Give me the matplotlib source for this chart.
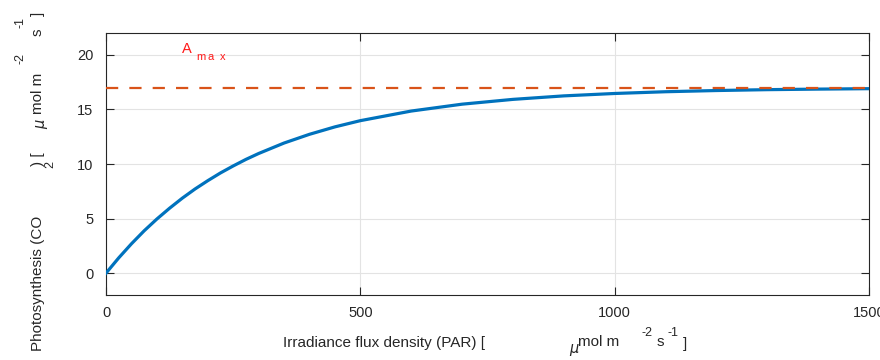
import matplotlib as mpl
import matplotlib.pyplot as plt

mpl.rcParams["font.family"] = ["Liberation Sans", "DejaVu Sans"]

# light-response curve
par = [0, 25, 50, 75, 100, 125, 150, 175, 200, 225, 250, 275, 300, 350,
       400, 450, 500, 600, 700, 800, 900, 1000, 1100, 1200, 1300, 1400, 1500]
photo = [0, 1.40, 2.69, 3.88, 4.96, 5.95, 6.87, 7.71, 8.47, 9.18, 9.82,
         10.42, 10.96, 11.92, 12.72, 13.40, 13.97, 14.85, 15.48, 15.92,
         16.24, 16.46, 16.62, 16.73, 16.81, 16.86, 16.90]
a_max = 17.0
xticks = [0, 500, 1000, 1500]
yticks = [0, 5, 10, 15, 20]

W, H = 880, 360
fig = plt.figure(figsize=(W / 100, H / 100), dpi=100)
ax = fig.add_axes([106 / W, 1 - 295 / H, (869 - 106) / W, (295 - 33) / H])

ax.plot(par, photo, color="#0072BD", linewidth=2.3, zorder=3)
ax.plot([par[0], par[-1]], [a_max, a_max], color="#D95319", linewidth=1.6,
        dashes=(5.5, 5.0), zorder=4)

ax.set_xlim(0, 1500)
ax.set_ylim(-2, 22)
ax.set_xticks(xticks)
ax.set_yticks(yticks)
ax.grid(True, color="#e3e3e3", linewidth=0.8)
ax.set_axisbelow(True)
ax.tick_params(direction="in", length=5.5, width=0.8, color="#262626",
               labelsize=10.5, labelcolor="#262626", top=True, right=True)
ax.tick_params(axis="y", pad=9)
ax.tick_params(axis="x", pad=8)
for s in ax.spines.values():
    s.set_color("#262626")
    s.set_linewidth(0.8)

red = "#ff1a1a"
ax.text(150, 20.2, "A", color=red, fontsize=10.5, va="baseline")
ax.text(177, 19.55, "m", color=red, fontsize=8, va="baseline")
ax.text(199, 19.55, "a", color=red, fontsize=8, va="baseline")
ax.text(223, 19.55, "x", color=red, fontsize=8, va="baseline")


def ft(x, y, s, **kw):
    kw.setdefault("fontsize", 11)
    kw.setdefault("color", "#262626")
    fig.text(x / W, 1 - y / H, s, ha="left", va="baseline", **kw)


# x label pieces (spread out as in the reference)
ft(283, 347, "Irradiance flux density (PAR) [")
ft(569, 353, r"$\mu$", fontsize=10.5)
ft(578, 346, "mol m")
ft(641, 336, "-2", fontsize=9)
ft(657, 346, "s")
ft(667, 336, "-1", fontsize=9)
ft(683, 348, "]")

# y label pieces (rotated)
rot = dict(rotation=90, rotation_mode="anchor")
ft(42, 351, "Photosynthesis (CO", **rot)
ft(53, 168, "2", fontsize=9, **rot)
ft(42, 166, ") [ ", **rot)
ft(45, 129, r"$\mu$", fontsize=10.5, **rot)
ft(42, 114, "mol m", **rot)
ft(23, 64, "-2", fontsize=9, **rot)
ft(42, 36, "s", **rot)
ft(23, 28, "-1", fontsize=9, **rot)
ft(42, 16, "]", **rot)

fig.savefig("out.png", dpi=100)
